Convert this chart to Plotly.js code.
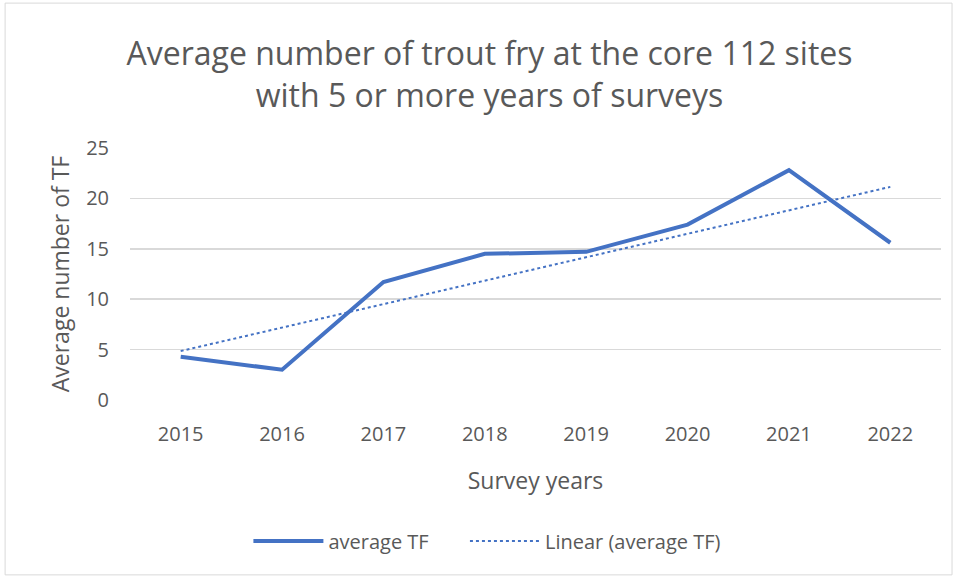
<!DOCTYPE html>
<html>
<head>
<meta charset="utf-8">
<script src="https://cdn.plot.ly/plotly-3.0.1.min.js"></script>
<style>
html,body{margin:0;padding:0;background:#fff;}
#chart{width:958px;height:578px;}
</style>
</head>
<body>
<div id="chart"></div>
<script>
const years = ["2015","2016","2017","2018","2019","2020","2021","2022"];
const averageTF = [4.3, 3.0, 11.7, 14.5, 14.7, 17.4, 22.8, 15.6];
const yTicks = [0, 5, 10, 15, 20, 25];

// Least-squares linear trendline of averageTF (as in the chart's "Linear" trend)
const n = averageTF.length;
const xs = averageTF.map((_, i) => i);
const mx = xs.reduce((a, b) => a + b, 0) / n;
const my = averageTF.reduce((a, b) => a + b, 0) / n;
let sxy = 0, sxx = 0;
for (let i = 0; i < n; i++) { sxy += (xs[i] - mx) * (averageTF[i] - my); sxx += (xs[i] - mx) ** 2; }
const slope = sxy / sxx, icpt = my - slope * mx;
const trend = xs.map(x => icpt + slope * x);

const font = "Open Sans, Liberation Sans, sans-serif";
const grey = "#595959";

const data = [
  {x: years, y: averageTF, type: "scatter", mode: "lines", name: "average TF",
   line: {color: "#4472C4", width: 4}, legend: "legend"},
  {x: years, y: trend, type: "scatter", mode: "lines", name: "Linear (average TF)",
   line: {color: "#4472C4", width: 2, dash: "dot"}, legend: "legend2"}
];

const legendCommon = {orientation: "h", xanchor: "left", y: -0.56, yanchor: "middle",
                      font: {size: 20, color: grey}, itemwidth: 70, bgcolor: "rgba(0,0,0,0)"};

const layout = {
  width: 958, height: 578,
  margin: {l: 130, r: 17, t: 148, b: 178},
  paper_bgcolor: "#fff", plot_bgcolor: "#fff",
  font: {family: font, color: grey, size: 16},
  title: {text: "Average number of trout fry at the core 112 sites<br>with 5 or more years of surveys",
          font: {family: font, size: 32, color: grey}, x: 0.511, xanchor: "center", y: 0.887, yanchor: "middle"},
  xaxis: {type: "category", range: [-0.5, 7.5], showgrid: false, zeroline: false, showline: false,
          ticks: "", tickfont: {size: 20, color: grey}, ticklabelstandoff: 20,
          title: {text: "Survey years", font: {size: 23, color: grey}, standoff: 26}},
  yaxis: {range: [0, 25], tickvals: yTicks, showgrid: true, gridcolor: "#d9d9d9", gridwidth: 1.5,
          zeroline: false, showline: false, ticks: "", tickfont: {size: 20, color: grey}, ticklabelstandoff: 20,
          title: {text: "Average number of TF", font: {size: 23, color: grey}, standoff: 10}},
  showlegend: true,
  legend: Object.assign({}, legendCommon, {x: 0.146}),
  legend2: Object.assign({}, legendCommon, {x: 0.413}),
  shapes: [{type: "rect", xref: "paper", yref: "paper", x0: -0.154, x1: 1.0136, y0: -0.694, y1: 1.575,
            line: {color: "#d9d9d9", width: 1}}]
};

Plotly.newPlot("chart", data, layout, {displayModeBar: false, staticPlot: true});
</script>
</body>
</html>
